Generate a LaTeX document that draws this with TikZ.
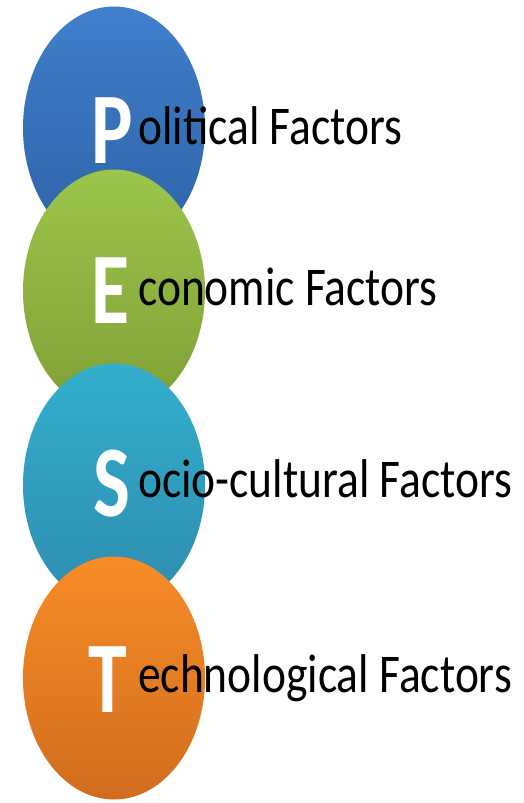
\documentclass[tikz,border=0pt]{standalone}
\usepackage{fontspec}
\setmainfont{Carlito}
\usepackage{graphicx}
\usetikzlibrary{shapes.geometric}
\definecolor{polTop}{HTML}{3F7FCB}
\definecolor{polBot}{HTML}{2E62A6}
\definecolor{ecoTop}{HTML}{9DC54B}
\definecolor{ecoBot}{HTML}{7F9F36}
\definecolor{socTop}{HTML}{34AFCE}
\definecolor{socBot}{HTML}{2D8CAE}
\definecolor{tecTop}{HTML}{F78C27}
\definecolor{tecBot}{HTML}{D16D1E}
\newcommand{\tall}[1]{\scalebox{1}[1.2]{#1}}
\newcommand{\taller}[1]{\scalebox{1}[1.3]{#1}}
\begin{document}
\begin{tikzpicture}[x=1pt,y=-1pt,
  petal/.style={ellipse, minimum width=182pt, minimum height=243pt, inner sep=0pt},
  initial/.style={anchor=base west, inner sep=0pt, text=white,
    font=\fontsize{78}{78}\selectfont\bfseries},
  factor/.style={anchor=base west, inner sep=0pt, text=black,
    font=\fontsize{45.5}{50}\selectfont}]
  \useasboundingbox (0,0) rectangle (523,803);
  % four overlapping ellipses, each lying over the one above it
  \node[petal, top color=polTop, bottom color=polBot] (polE) at (114,128) {};
  \node[petal, top color=ecoTop, bottom color=ecoBot] (ecoE) at (114,291) {};
  \node[petal, top color=socTop, bottom color=socBot] (socE) at (114,485) {};
  \node[petal, top color=tecTop, bottom color=tecBot] (tecE) at (114,678) {};
  % initials
  \node[initial] (polI) at (91,163) {\taller{P}};
  \node[initial] (ecoI) at (91,323) {\taller{E}};
  \node[initial] (socI) at (93,516) {\taller{S}};
  \node[initial] (tecI) at (88,712) {\taller{T}};
  % rest of each word
  \node[factor] (polT) at (138,144) {\tall{olitical Factors}};
  \node[factor] (ecoT) at (138,305) {\tall{conomic Factors}};
  \node[factor] (socT) at (138,497) {\tall{ocio-cultural Factors}};
  \node[factor] (tecT) at (138,692) {\tall{echnological Factors}};
\end{tikzpicture}
\end{document}
